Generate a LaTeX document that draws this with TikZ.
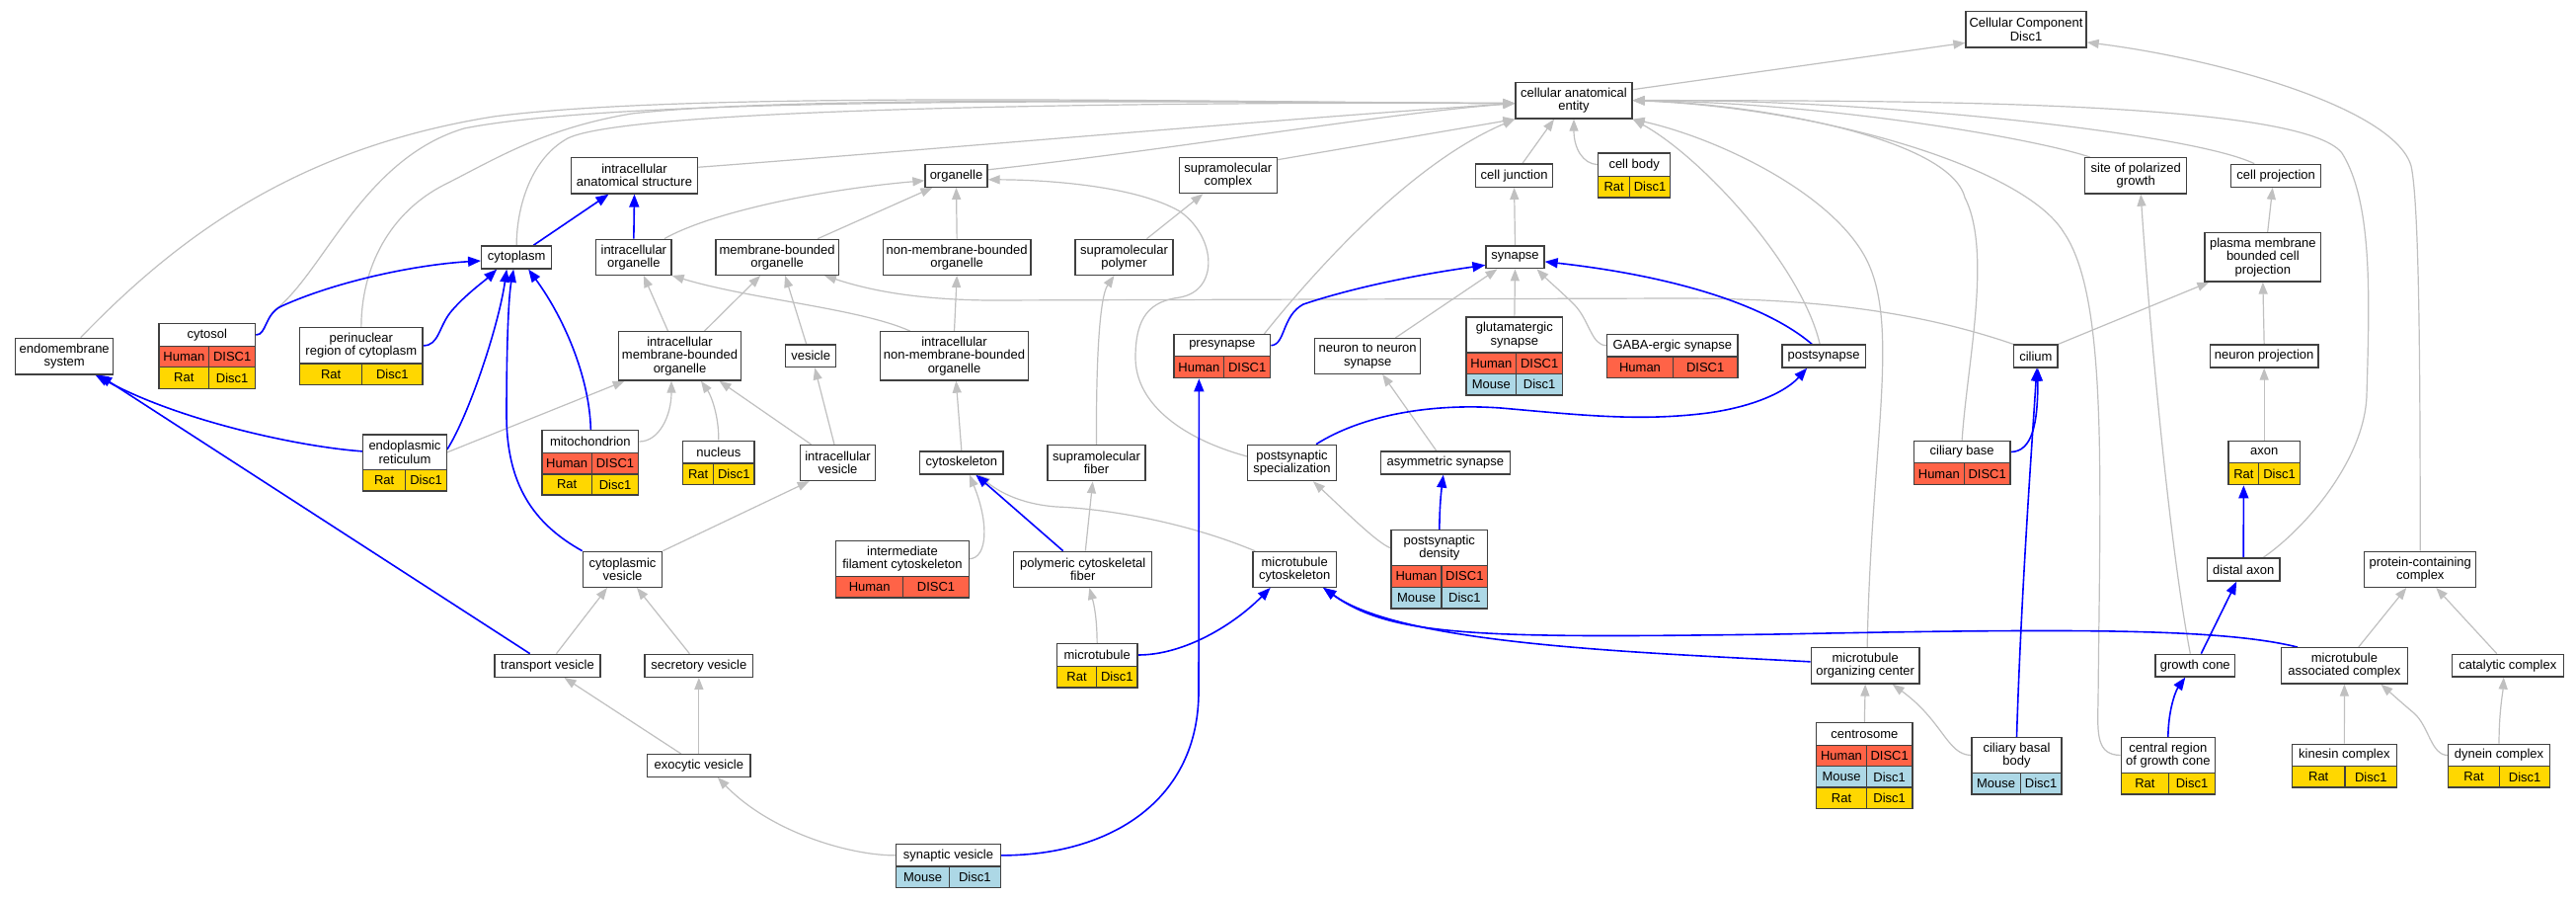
\documentclass[tikz,border=0pt]{standalone}
\usepackage{fontspec}
\setmainfont{Liberation Sans}
\usetikzlibrary{arrows.meta}
\definecolor{hum}{RGB}{255,99,71}
\definecolor{rat}{RGB}{255,215,0}
\definecolor{mou}{RGB}{173,216,230}
\definecolor{eg}{RGB}{192,192,192}
\definecolor{bord}{RGB}{64,64,64}
\newcommand\fsz{\fontsize{13}{13.3}\selectfont}
\newcommand\mybx[6]{\node[box,minimum width={#4-#2},minimum height={#5-#3}] (#1) at ({(#2+#4)/2},{(#3+#5)/2}) {#6};}
\newcommand\myrw[9]{%
\node[cellbox,fill=#7,minimum width={#3-#2},minimum height={#6-#5}] (#1a) at ({(#2+#3)/2},{(#5+#6)/2}) {#8};%
\node[cellbox,fill=#7,minimum width={#4-#3},minimum height={#6-#5}] (#1b) at ({(#3+#4)/2},{(#5+#6)/2}) {#9};}
\pgfdeclarelayer{bgl}
\pgfdeclarelayer{edges}
\pgfsetlayers{bgl,edges,main}
\tikzset{
  box/.style={draw=bord,fill=white,line width=1.3pt,inner sep=1pt,align=center,font=\fsz},
  cellbox/.style={draw=bord,line width=1.3pt,inner sep=0pt,font=\fsz},
  g/.style={draw=eg,line width=1.2pt,-{Triangle[length=12pt,width=9pt]}},
  b/.style={draw=blue,line width=1.6pt,-{Triangle[length=13pt,width=10pt]}}
}
\begin{document}
\begin{tikzpicture}[x=1pt,y=-1pt]
\begin{pgfonlayer}{bgl}
\fill[white] (0,0) rectangle (2609,909);
\end{pgfonlayer}
\useasboundingbox (0,0) rectangle (2609,909);
% plain boxes
\mybx{cc}{1991}{11.7}{2113}{48}{Cellular Component\\Disc1}
\mybx{cae}{1535}{83.3}{1653}{120}{cellular anatomical\\entity}
\mybx{ias}{578.3}{159.3}{706.7}{196}{intracellular\\anatomical structure}
\mybx{organelle}{937}{166.3}{1000}{189.3}{organelle}
\mybx{smc}{1194.3}{159.3}{1293.3}{195.7}{supramolecular\\complex}
\mybx{celljunction}{1494.4}{166}{1572.8}{189.3}{cell junction}
\mybx{sopg}{2111.7}{159.7}{2214.7}{196}{site of polarized\\growth}
\mybx{cellproj}{2259.7}{166.3}{2350.7}{189.3}{cell projection}
\mybx{cytoplasm}{487.7}{249}{558.7}{272}{cytoplasm}
\mybx{io}{603.7}{242.3}{680}{278.3}{intracellular\\organelle}
\mybx{mbo}{725}{242.3}{849.3}{278.3}{membrane-bounded\\organelle}
\mybx{nmbo}{894.3}{242.3}{1044}{278.3}{non-membrane-bounded\\organelle}
\mybx{smp}{1089}{242.3}{1188}{278.3}{supramolecular\\polymer}
\mybx{synapse}{1505}{249}{1564}{271.7}{synapse}
\mybx{pmbcp}{2233}{235.7}{2350.7}{285}{plasma membrane\\bounded cell\\projection}
\mybx{endo}{15.7}{342.3}{114.7}{379}{endomembrane\\system}
\mybx{imbo}{626.3}{335.7}{750.7}{385}{intracellular\\membrane-bounded\\organelle}
\mybx{vesicle}{795.7}{349}{846.7}{371.7}{vesicle}
\mybx{inmbo}{891.7}{335.7}{1041.3}{385}{intracellular\\non-membrane-bounded\\organelle}
\mybx{n2n}{1331.7}{342.7}{1438.7}{378.3}{neuron to neuron\\synapse}
\mybx{postsyn}{1805}{349}{1889.3}{372}{postsynapse}
\mybx{cilium}{2039.7}{349}{2084}{372}{cilium}
\mybx{neuronproj}{2238.3}{349}{2348}{372}{neuron projection}
\mybx{iv}{810.3}{450.5}{886.7}{486.5}{intracellular\\vesicle}
\mybx{cytoskeleton}{931.7}{457}{1016}{480}{cytoskeleton}
\mybx{smf}{1061}{450.7}{1160}{486.7}{supramolecular\\fiber}
\mybx{psspec}{1263.7}{450.3}{1353.3}{486.7}{postsynaptic\\specialization}
\mybx{asym}{1398.3}{457}{1529.3}{480}{asymmetric synapse}
\mybx{cytovesicle}{590.3}{558.3}{670.7}{594.3}{cytoplasmic\\vesicle}
\mybx{pcf}{1026.7}{558.3}{1166.7}{594.3}{polymeric cytoskeletal\\fiber}
\mybx{mtcyto}{1269}{558.5}{1353.3}{594.3}{microtubule\\cytoskeleton}
\mybx{distalaxon}{2235.3}{565}{2309.1}{588}{distal axon}
\mybx{pcc}{2394.8}{558.3}{2507.7}{594.3}{protein-containing\\complex}
\mybx{transport}{501}{662.3}{608}{685.3}{transport vesicle}
\mybx{secretory}{653}{662.3}{762.7}{685.3}{secretory vesicle}
\mybx{mtoc}{1834.3}{655.7}{1944}{692}{microtubule\\organizing center}
\mybx{growthcone}{2183}{662.3}{2263.6}{685}{growth cone}
\mybx{mtac}{2310.6}{655.7}{2438.2}{692}{microtubule\\associated complex}
\mybx{catalytic}{2483.3}{662.3}{2596.2}{685}{catalytic complex}
\mybx{exocytic}{655.7}{763.7}{760}{786.3}{exocytic vesicle}
% tables
\mybx{cytosol}{161}{327.7}{258.7}{350.3}{cytosol}
\myrw{cytosol1}{161}{211.7}{258.7}{350.3}{371.7}{hum}{Human}{DISC1}
\myrw{cytosol2}{161}{211.7}{258.7}{371.7}{393.3}{rat}{Rat}{Disc1}
\mybx{perin}{303.7}{331.7}{428}{368}{perinuclear\\region of cytoplasm}
\myrw{perin1}{303.7}{366.7}{428}{368}{389.3}{rat}{Rat}{Disc1}
\mybx{cellbody}{1618.8}{155}{1691.5}{178.3}{cell body}
\myrw{cellbody1}{1618.8}{1650.6}{1691.5}{178.3}{200}{rat}{Rat}{Disc1}
\mybx{presyn}{1189}{338.7}{1286.7}{360.7}{presynapse}
\myrw{presyn1}{1189}{1239.7}{1286.7}{360.7}{382.7}{hum}{Human}{DISC1}
\mybx{glut}{1485}{321}{1582.7}{357}{glutamatergic\\synapse}
\myrw{glut1}{1485}{1535.7}{1582.7}{357}{378.7}{hum}{Human}{DISC1}
\myrw{glut2}{1485}{1535.7}{1582.7}{378.7}{400}{mou}{Mouse}{Disc1}
\mybx{gaba}{1627.7}{338.3}{1760}{361}{GABA-ergic synapse}
\myrw{gaba1}{1627.7}{1694.3}{1760}{361}{382.7}{hum}{Human}{DISC1}
\mybx{er}{367.7}{440}{452.3}{475.7}{endoplasmic\\reticulum}
\myrw{er1}{367.7}{410.7}{452.3}{475.7}{497}{rat}{Rat}{Disc1}
\mybx{mito}{549}{435.7}{646.7}{458.3}{mitochondrion}
\myrw{mito1}{549}{599.3}{646.7}{458.3}{480}{hum}{Human}{DISC1}
\myrw{mito2}{549}{599.3}{646.7}{480}{501}{rat}{Rat}{Disc1}
\mybx{nucleus}{691.7}{446.3}{764}{469}{nucleus}
\myrw{nucleus1}{691.7}{722.7}{764}{469}{490.7}{rat}{Rat}{Disc1}
\mybx{cbase}{1938.3}{446.3}{2036}{468.7}{ciliary base}
\myrw{cbase1}{1938.3}{1989.3}{2036}{468.7}{490.7}{hum}{Human}{DISC1}
\mybx{axon}{2257}{446.3}{2329.3}{468.7}{axon}
\myrw{axon1}{2257}{2287.7}{2329.3}{468.7}{490.7}{rat}{Rat}{Disc1}
\mybx{psd}{1409}{536.7}{1506.7}{572.7}{postsynaptic\\density}
\myrw{psd1}{1409}{1460}{1506.7}{572.7}{594.3}{hum}{Human}{DISC1}
\myrw{psd2}{1409}{1460}{1506.7}{594.3}{616}{mou}{Mouse}{Disc1}
\mybx{ifc}{846.7}{547.7}{981.3}{583.7}{intermediate\\filament cytoskeleton}
\myrw{ifc1}{846.7}{914.7}{981.3}{583.7}{605}{hum}{Human}{DISC1}
\mybx{microtubule}{1070.3}{651.7}{1152}{674.3}{microtubule}
\myrw{microtubule1}{1070.3}{1110.7}{1152}{674.3}{696}{rat}{Rat}{Disc1}
\mybx{centrosome}{1839.7}{731.7}{1937}{754.3}{centrosome}
\myrw{centrosome1}{1839.7}{1890.3}{1937}{754.3}{775.7}{hum}{Human}{DISC1}
\myrw{centrosome2}{1839.7}{1890.3}{1937}{775.7}{797}{mou}{Mouse}{Disc1}
\myrw{centrosome3}{1839.7}{1890.3}{1937}{797}{818.3}{rat}{Rat}{Disc1}
\mybx{cbb}{1997}{746.7}{2088}{782.3}{ciliary basal\\body}
\myrw{cbb1}{1997}{2046.3}{2088}{782.3}{804}{mou}{Mouse}{Disc1}
\mybx{crgc}{2148.2}{746.7}{2243.5}{782.3}{central region\\of growth cone}
\myrw{crgc1}{2148.2}{2196.6}{2243.5}{782.3}{804}{rat}{Rat}{Disc1}
\mybx{kinesin}{2321.3}{753.3}{2427.4}{775.7}{kinesin complex}
\myrw{kinesin1}{2321.3}{2375.1}{2427.4}{775.7}{797}{rat}{Rat}{Disc1}
\mybx{dynein}{2479.4}{753.3}{2582.6}{775.7}{dynein complex}
\myrw{dynein1}{2479.4}{2531.7}{2582.6}{775.7}{797}{rat}{Rat}{Disc1}
\mybx{sv}{907.7}{854.7}{1013.3}{877}{synaptic vesicle}
\myrw{sv1}{907.7}{961.3}{1013.3}{877}{898.7}{mou}{Mouse}{Disc1}
\begin{pgfonlayer}{edges}
% gray edges to cellular anatomical entity
\draw[g] ([xshift=16.5]endo.north) .. controls (180,240) and (300,150) .. (500,118) .. controls (700,92) and (1200,103) .. ([yshift=-3]cae.west);
\draw[g] (cytosol.east) .. controls (270,339) and (268,320) .. (282,311) .. controls (330,270) and (370,160) .. (470,130) .. controls (640,96) and (1200,103) .. ([yshift=-3]cae.west);
\draw[g] (perin.north) .. controls (366,270) and (395,215) .. (450,187) .. controls (500,162) and (550,130) .. (640,115) .. controls (800,97) and (1200,103) .. ([yshift=-3]cae.west);
\draw[g] (cytoplasm.north) .. controls (523,215) and (535,162) .. (575,140) .. controls (640,108) and (1200,103) .. ([yshift=-3]cae.west);
\draw[g] ([yshift=8.4]ias.east) .. controls (900,155) and (1300,120) .. ([yshift=-3]cae.west);
\draw[g] ([yshift=6]organelle.east) .. controls (1200,150) and (1400,115) .. ([yshift=-3]cae.west);
\draw[g] ([yshift=15.8]smc.east) -- (cae.south west);
\draw[g] ([xshift=-7]presyn.north east) .. controls (1335,270) and (1430,165) .. (cae.south west);
\draw[g] ([xshift=8.4]celljunction.north) -- ([xshift=-20]cae.south);
\draw[g] (cellbody.west) .. controls (1603,166) and (1594,150) .. (cae.south);
\draw[g] ([xshift=-4]postsyn.north) .. controls (1825,270) and (1725,160) .. (cae.south east);
\draw[g] ([xshift=2]mtoc.north) .. controls (1895,450) and (1925,330) .. (1890,262) .. controls (1855,195) and (1740,140) .. (cae.south east);
\draw[g] (cbase.north) .. controls (1992,370) and (2018,255) .. (1990,200) .. controls (1975,140) and (1780,105) .. (cae.east);
\draw[g] (crgc.west) .. controls (2124,764) and (2124,745) .. (2125,710) .. controls (2127,480) and (2135,300) .. (2090,235) .. controls (2050,170) and (1850,110) .. (cae.east);
\draw[g] ([xshift=-46.5]sopg.north) .. controls (2060,140) and (1850,104) .. (cae.east);
\draw[g] ([xshift=-22]cellproj.north) .. controls (2220,135) and (1900,100) .. (cae.east);
\draw[g] ([xshift=20]distalaxon.north) .. controls (2335,535) and (2395,465) .. (2397,400) .. controls (2400,300) and (2403,205) .. (2372,155) .. controls (2330,100) and (1900,102) .. (cae.east);
\draw[g] (pcc.north) .. controls (2451,400) and (2451,210) .. (2442,168) .. controls (2425,110) and (2250,60) .. ([yshift=-13]cc.east);
\draw[g] ([yshift=11]cae.east) -- ([yshift=-13.5]cc.west);
% organelle cluster
\draw[g] ([xshift=31]io.north) .. controls (720,215) and (830,192) .. ([yshift=-5]organelle.west);
\draw[g] ([xshift=41]mbo.north) -- ([xshift=8]organelle.south west);
\draw[g] (nmbo.north) -- (organelle.south);
\draw[g] ([yshift=6.5]psspec.west) .. controls (1200,445) and (1150,410) .. (1150,362) .. controls (1150,320) and (1165,305) .. (1195,301) .. controls (1235,294) and (1232,240) .. (1195,214) .. controls (1150,188) and (1060,182) .. ([yshift=-4]organelle.east);
\draw[g] ([xshift=23]smp.north) -- ([xshift=-25.5]smc.south);
\draw[g] (smf.north) .. controls (1110,360) and (1114,300) .. ([xshift=-10]smp.south);
\draw[g] ([xshift=-12]imbo.north) -- ([xshift=10]io.south);
\draw[g] ([xshift=25]imbo.north) -- ([xshift=-17]mbo.south);
\draw[g] ([xshift=-4.5]vesicle.north) -- ([xshift=8]mbo.south);
\draw[g] (inmbo.north) -- (nmbo.south);
\draw[g] ([xshift=-44.8]inmbo.north) .. controls (870,312) and (760,303) .. (io.south east);
\draw[g] (cilium.north west) .. controls (1950,318) and (1850,302) .. (1700,302) -- (1000,304) .. controls (920,303) and (875,292) .. ([xshift=-15]mbo.south east);
\draw[g] (cilium.north east) -- ([xshift=5]pmbcp.south west);
\draw[g] (er.east) -- ([xshift=7]imbo.south west);
\draw[g] (mito.east) .. controls (668,447) and (680,420) .. ([xshift=-8.5]imbo.south);
\draw[g] (nucleus.north) .. controls (728,420) and (720,400) .. ([xshift=21.5]imbo.south);
\draw[g] ([xshift=-27]iv.north) -- ([xshift=40]imbo.south);
\draw[g] ([xshift=-3.5]iv.north) -- ([xshift=4]vesicle.south);
\draw[g] (cytovesicle.north east) -- ([xshift=10]iv.south west);
\draw[g] ([xshift=9]transport.north) -- ([xshift=-15.5]cytovesicle.south);
\draw[g] ([xshift=-9.5]secretory.north) -- ([xshift=14.5]cytovesicle.south);
\draw[g] ([xshift=-18]exocytic.north) -- ([xshift=17]transport.south);
\draw[g] (exocytic.north) -- (secretory.south);
\draw[g] (sv.west) .. controls (860,866) and (780,842) .. ([xshift=19]exocytic.south);
\draw[g] (cytoskeleton.north) -- ([xshift=1.8]inmbo.south);
\draw[g] (ifc.east) .. controls (1000,565) and (1002,530) .. ([xshift=8]cytoskeleton.south);
\draw[g] ([xshift=2.6]pcf.north) -- ([xshift=-3.8]smf.south);
\draw[g] (microtubule.north) .. controls (1111,625) and (1108,612) .. ([xshift=6.6]pcf.south);
\draw[g] ([xshift=3]mtcyto.north west) .. controls (1200,528) and (1120,515) .. (1070,513) .. controls (1030,510) and (1008,495) .. ([xshift=17]cytoskeleton.south);
\draw[g] (centrosome.north) -- (mtoc.south);
\draw[g] (cbb.west) .. controls (1972,764) and (1968,730) .. ([xshift=27.5]mtoc.south);
\draw[g] ([xshift=-5]growthcone.north) .. controls (2195,540) and (2175,300) .. ([xshift=5]sopg.south);
\draw[g] (axon.north) -- (neuronproj.south);
\draw[g] (neuronproj.north) -- (pmbcp.south);
\draw[g] ([xshift=4.8]pmbcp.north) -- ([xshift=-3.5]cellproj.south);
\draw[g] (kinesin.north) -- (mtac.south);
\draw[g] (dynein.west) .. controls (2462,764) and (2460,735) .. (2445,722) .. controls (2432,711) and (2422,702) .. ([xshift=37]mtac.south);
\draw[g] (dynein.north) .. controls (2531,720) and (2535,700) .. ([xshift=-4]catalytic.south);
\draw[g] ([xshift=14.3]mtac.north) -- ([xshift=-14]pcc.south);
\draw[g] ([xshift=-11]catalytic.north) -- ([xshift=16]pcc.south);
% synapse cluster
\draw[g] (synapse.north) -- (celljunction.south);
\draw[g] ([xshift=28]n2n.north) -- ([xshift=-18]synapse.south);
\draw[g] (glut.north) -- (synapse.south);
\draw[g] (gaba.west) .. controls (1612,350) and (1610,325) .. (1595,309) .. controls (1582,296) and (1568,284) .. ([xshift=22]synapse.south);
\draw[g] ([xshift=-9]asym.north) -- ([xshift=15]n2n.south);
\draw[g] (psd.west) .. controls (1395,550) and (1360,515) .. ([xshift=21.5]psspec.south);
% blue edges
\draw[b] ([xshift=17]cytoplasm.north) -- ([xshift=-26]ias.south);
\draw[b] (io.north) -- (ias.south);
\draw[b] (cytosol.east) .. controls (270,339) and (268,318) .. (285,310) .. controls (340,285) and (420,268) .. ([yshift=-3.5]cytoplasm.west);
\draw[b] (perin.east) .. controls (445,350) and (444,330) .. (458,314) .. controls (473,297) and (490,285) .. ([xshift=-20]cytoplasm.south);
\draw[b] ([yshift=3]er.east) .. controls (475,420) and (505,330) .. ([xshift=-10]cytoplasm.south);
\draw[b] (cytovesicle.north west) .. controls (540,530) and (513,490) .. (513,420) .. controls (513,350) and (515,300) .. ([xshift=-3]cytoplasm.south);
\draw[b] ([xshift=0.5]mito.north) .. controls (597,380) and (570,320) .. ([xshift=12]cytoplasm.south);
\draw[b] ([yshift=1]er.west) .. controls (300,452) and (180,425) .. ([xshift=31.5]endo.south);
\draw[b] ([xshift=-17.8]transport.north) -- ([xshift=35]endo.south);
\draw[b] ([xshift=-20]pcf.north) -- ([xshift=14.5]cytoskeleton.south);
\draw[b] (microtubule.east) .. controls (1200,663) and (1250,632) .. ([xshift=-24.5]mtcyto.south);
\draw[b] ([yshift=4]mtoc.west) .. controls (1650,660) and (1420,652) .. ([xshift=29]mtcyto.south);
\draw[b] ([xshift=17]mtac.north west) .. controls (2250,636) and (2100,636) .. (1800,642) .. controls (1500,646) and (1410,645) .. ([xshift=29]mtcyto.south);
\draw[b] (presyn.east) .. controls (1302,349) and (1298,320) .. (1320,308) .. controls (1380,288) and (1450,276) .. ([yshift=-8]synapse.west);
\draw[b] ([xshift=-12]postsyn.north) .. controls (1790,310) and (1700,280) .. ([yshift=-4.5]synapse.east);
\draw[b] ([xshift=24.5]psspec.north) .. controls (1380,420) and (1450,408) .. (1520,413) .. controls (1600,420) and (1660,427) .. (1730,418) .. controls (1780,411) and (1810,395) .. ([xshift=-17]postsyn.south);
\draw[b] (sv.east) .. controls (1125,866) and (1214,810) .. (1214,700) -- (presyn1a.south);
\draw[b] (psd.north) .. controls (1458,510) and (1460,495) .. ([xshift=-2]asym.south);
\draw[b] (cbase.east) .. controls (2058,457) and (2064,430) .. ([xshift=2]cilium.south);
\draw[b] (cbb.north) .. controls (2047,600) and (2058,450) .. ([xshift=1]cilium.south);
\draw[b] ([xshift=6]growthcone.north) -- ([xshift=-7]distalaxon.south);
\draw[b] (crgc.north) .. controls (2196,720) and (2203,700) .. ([xshift=-10]growthcone.south);
\draw[b] (distalaxon.north) -- (axon1a.south);
\end{pgfonlayer}
\end{tikzpicture}
\end{document}
